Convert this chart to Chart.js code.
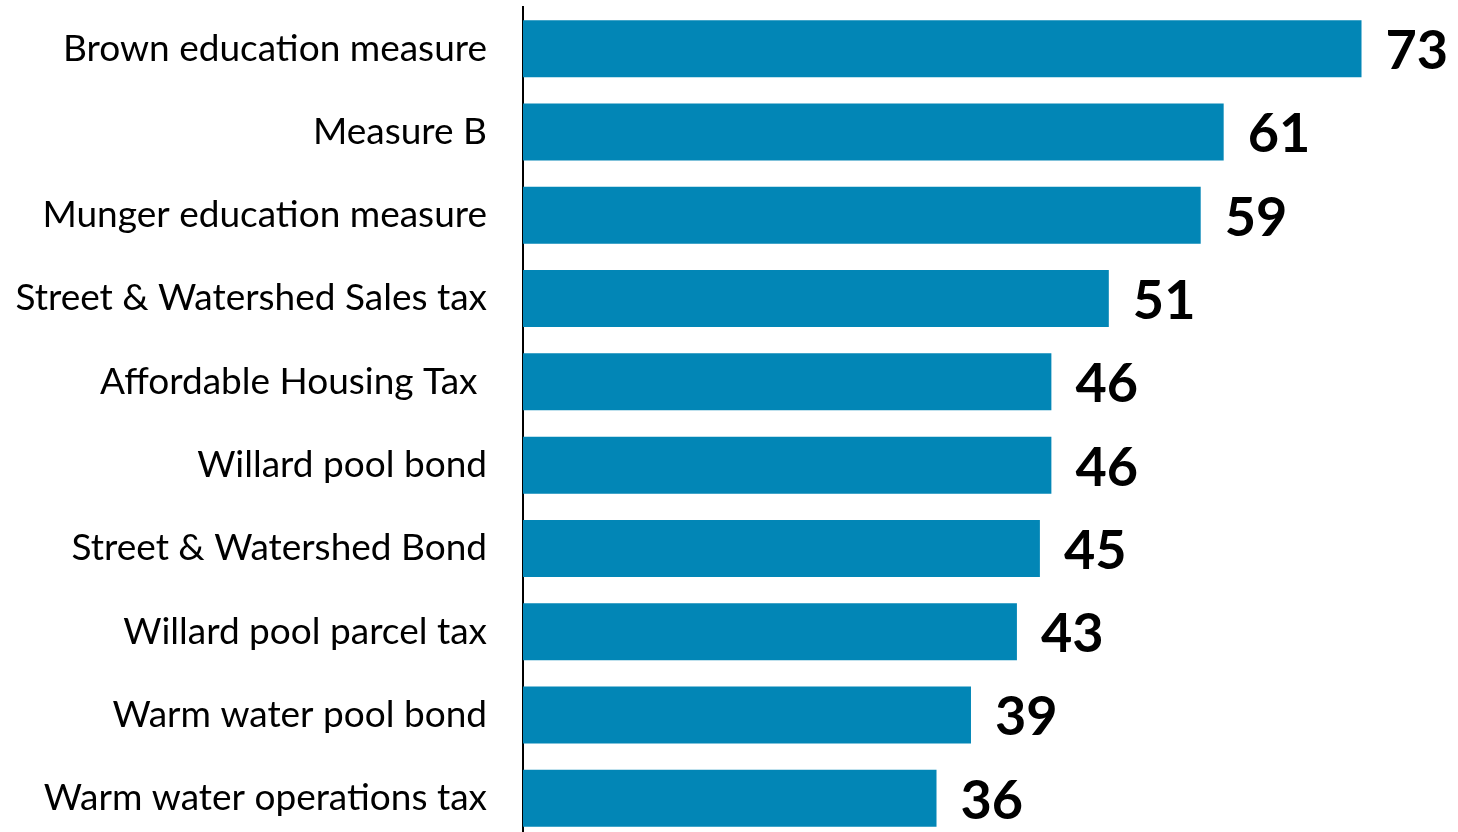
<!DOCTYPE html>
<html>
<head>
<meta charset="utf-8">
<title>Measures</title>
<script src="https://cdn.jsdelivr.net/npm/chart.js@4/dist/chart.umd.min.js"></script>
<style>
  html, body { margin: 0; padding: 0; background: #fff; overflow: hidden; }
  #wrap { position: relative; width: 1458px; height: 840px; }
</style>
</head>
<body>
<div id="wrap"><canvas id="myChart"></canvas></div>
<script>
'use strict';

// ******* DATA *******
let measureNames = [
  'Brown education measure',
  'Measure B',
  'Munger education measure',
  'Street & Watershed Sales tax',
  'Affordable Housing Tax ',
  'Willard pool bond',
  'Street & Watershed Bond',
  'Willard pool parcel tax',
  'Warm water pool bond',
  'Warm water operations tax'
];
let measureValues = [73, 61, 59, 51, 46, 46, 45, 43, 39, 36];

// ******* VALUE LABELS (no datalabels plugin available) *******
let valueLabels = {
  id: 'valueLabels',
  afterDatasetsDraw(chart) {
    let ctx = chart.ctx;
    let meta = chart.getDatasetMeta(0);
    ctx.save();
    ctx.font = 'bold 54px Lato';
    ctx.fillStyle = '#000';
    ctx.textAlign = 'left';
    ctx.textBaseline = 'middle';
    meta.data.forEach(function (bar, i) {
      ctx.fillText(String(measureValues[i]), bar.x + 24, bar.y + 3);
    });
    ctx.restore();
  }
};

let canvasElem = document.getElementById('myChart').getContext('2d');

new Chart(canvasElem, {
  type: 'bar',
  data: {
    labels: measureNames,
    datasets: [{
      data: measureValues,
      backgroundColor: '#0286B6',
      borderWidth: 0,
      barPercentage: 0.684,
      categoryPercentage: 1
    }]
  },
  options: {
    indexAxis: 'y',
    responsive: true,
    maintainAspectRatio: false,
    animation: false,
    layout: { padding: { top: 7, right: 0, bottom: 0, left: 0 } },
    plugins: {
      legend: { display: false },
      tooltip: { enabled: false }
    },
    scales: {
      x: {
        display: false,
        min: 0,
        max: 81.4
      },
      y: {
        afterFit: function (scale) {
          scale.width = 523;
          // keep the label padding from shrinking the plot vertically
          scale.paddingTop = 0;
          scale.paddingBottom = 0;
        },
        grid: { display: false, drawTicks: false },
        border: { display: true, color: '#000', width: 2 },
        ticks: {
          padding: 36,
          color: '#000',
          font: { family: 'Lato', size: 37 }
        }
      }
    }
  },
  plugins: [valueLabels]
});
</script>
</body>
</html>
